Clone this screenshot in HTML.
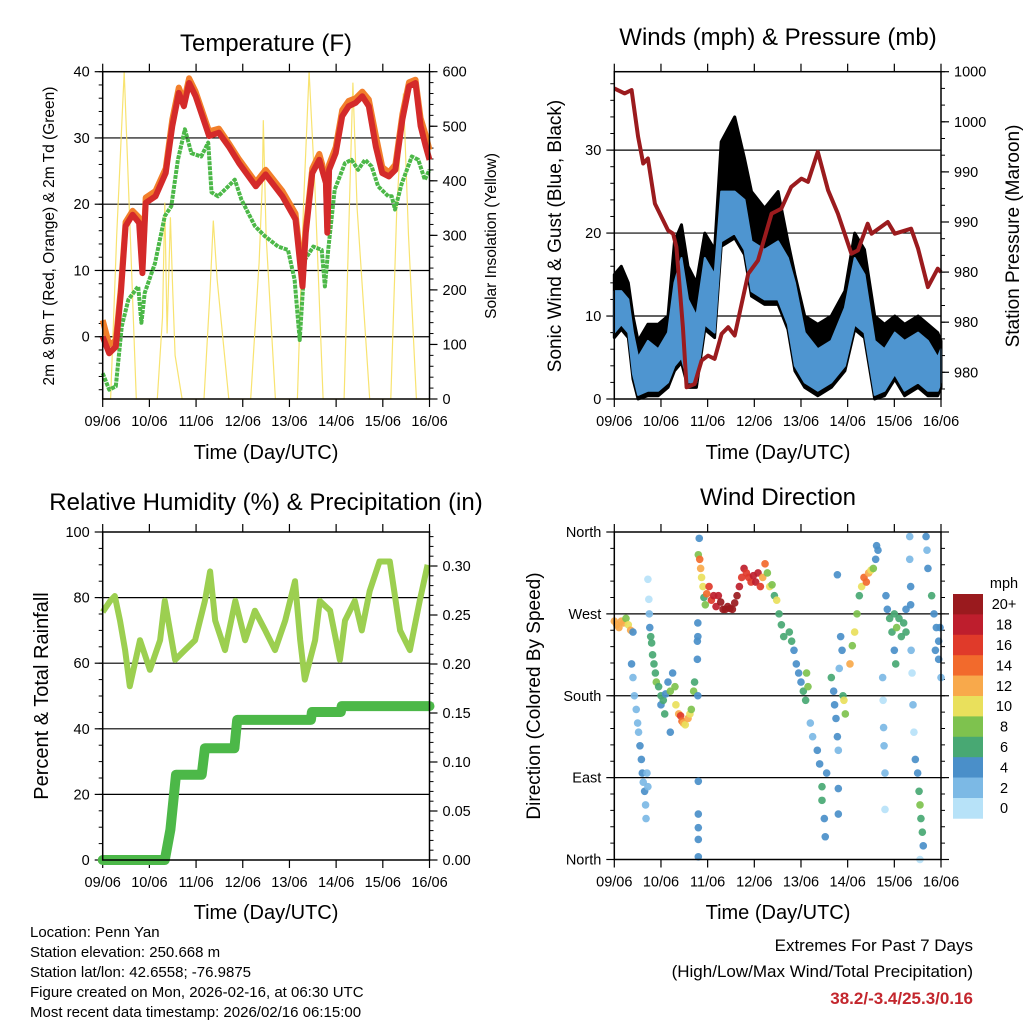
<!DOCTYPE html>
<html><head><meta charset="utf-8"><style>
html,body{margin:0;padding:0;background:#fff;}
svg{display:block;font-family:"Liberation Sans",Arial,sans-serif;}
</style></head><body>
<svg id="chart" width="1024" height="1024" viewBox="0 0 1024 1024" xmlns="http://www.w3.org/2000/svg">
<rect x="0" y="0" width="1024" height="1024" fill="#fff"/>
<g id="layer"></g>
<g font-size="15" fill="#000">
<text x="30" y="937">Location: Penn Yan</text>
<text x="30" y="957">Station elevation: 250.668 m</text>
<text x="30" y="977">Station lat/lon: 42.6558; -76.9875</text>
<text x="30" y="997">Figure created on Mon, 2026-02-16, at 06:30 UTC</text>
<text x="30" y="1017">Most recent data timestamp: 2026/02/16 06:15:00</text>
</g>
<g text-anchor="end">
<text x="973" y="951" font-size="17">Extremes For Past 7 Days</text>
<text x="973" y="977" font-size="17">(High/Low/Max Wind/Total Precipitation)</text>
<text x="973" y="1004" font-size="17" font-weight="bold" fill="#c3262d">38.2/-3.4/25.3/0.16</text>
</g>
</svg>
<script>
// ---------- data ----------
const dayLabels = ["09/06","10/06","11/06","12/06","13/06","14/06","15/06","16/06"];
const tempTicks = [0,10,20,30,40];
const solarTicks = [0,100,200,300,400,500,600];
const windTicks = [0,10,20,30];
const pressTickVals = [1001,998,995,992,989,986,983];
const pressTickLabels = ["1000","1000","990","990","980","980","980"];
const rhTicks = [0,20,40,60,80,100];
const precipTicks = [0,0.05,0.10,0.15,0.20,0.25,0.30];
const precipTickLabels = ["0.00","0.05","0.10","0.15","0.20","0.25","0.30"];
const dirTicks = [0,90,180,270,360];
const dirTickLabels = ["North","East","South","West","North"];
const speedBins = ["0","2","4","6","8","10","12","14","16","18","20+"];
const speedColors = ["#b7e2f8","#7cb9e5","#4a8fc9","#48a873","#7ec24e","#e9e05c","#f8a94b","#f26a2c","#e03a2a","#be1e2d","#9a1a1e"];

const tempT = [0,0.14,0.28,0.39,0.49,0.64,0.78,0.85,0.92,1.13,1.35,1.49,1.63,1.74,1.85,1.99,2.28,2.49,2.70,2.92,3.28,3.49,3.85,4.13,4.28,4.35,4.49,4.64,4.78,4.81,4.85,4.99,5.13,5.27,5.42,5.56,5.70,5.85,5.99,6.13,6.27,6.42,6.56,6.70,6.81,6.92,7.0];
const tempRed = [0.0,-2.5,-1.5,6.6,16.7,18.4,17.2,9.6,20.2,21.2,24.7,31.8,36.8,34.8,38.3,36.3,30.3,30.8,28.7,26.2,22.7,24.5,21.2,17.7,7.6,15.7,24.7,26.7,23.2,15.7,25.2,27.7,33.3,34.8,35.3,36.3,34.8,28.7,24.7,24.2,25.2,32.8,37.8,38.3,31.8,28.7,26.7];
const tempOrange = [2.5,-1.2,-0.6,7.4,17.3,19.0,18.0,10.5,21.0,22.0,25.4,32.8,37.6,35.6,39.0,37.0,31.0,31.4,29.2,26.8,23.3,25.2,22.0,18.6,9.0,16.5,25.4,27.6,24.0,16.5,26.0,28.6,34.2,35.6,36.0,37.0,35.8,30.4,25.6,24.8,26.0,33.6,38.4,38.8,33.0,30.4,28.2];
const dewT = [0,0.14,0.28,0.41,0.55,0.76,0.83,0.90,1.12,1.33,1.47,1.61,1.76,1.90,2.11,2.26,2.33,2.47,2.69,2.83,2.97,3.26,3.47,3.76,3.97,4.11,4.22,4.33,4.51,4.69,4.76,4.83,4.97,5.19,5.33,5.47,5.62,5.76,5.90,6.12,6.19,6.26,6.40,6.62,6.76,6.90,7.0];
const dewVals = [-5.5,-8.0,-7.5,1.6,5.6,7.6,2.1,6.6,11.1,18.2,19.7,26.7,31.3,27.7,27.2,29.3,21.8,21.2,22.7,23.7,20.7,16.7,15.2,13.6,13.1,8.6,-0.5,11.6,13.6,13.1,7.6,13.1,22.2,26.2,26.7,25.2,26.7,25.7,22.7,21.2,21.2,19.2,23.0,27.2,26.7,23.7,25.2];
const solarT = [0,0.17,0.30,0.46,0.60,0.72,1.17,1.28,1.33,1.38,1.45,1.50,1.55,1.70,2.17,2.30,2.37,2.45,2.70,3.17,3.35,3.42,3.44,3.50,3.70,4.17,4.30,4.42,4.55,4.72,5.17,5.30,5.36,5.45,5.72,6.17,6.30,6.44,6.55,6.72,7.0];
const solarVals = [0,0,300,600,280,0,0,150,360,120,333,200,80,0,0,200,327,220,0,0,250,400,511,300,0,0,350,600,380,0,0,400,580,350,0,0,350,560,300,0,0];

const pressT = [0,0.22,0.37,0.51,0.62,0.72,0.87,1.15,1.26,1.33,1.47,1.55,1.72,1.87,2.01,2.15,2.30,2.44,2.58,2.87,3.08,3.37,3.58,3.79,4.01,4.15,4.36,4.58,4.79,5.08,5.22,5.43,5.51,5.86,6.01,6.36,6.51,6.72,6.93,7.0];
const pressVals = [1000.0,999.7,999.9,997.1,995.5,995.8,993.1,991.5,991.3,990.5,985.7,982.1,982.3,983.7,984.0,983.8,985.3,985.7,985.2,988.9,989.7,992.5,992.8,994.1,994.6,994.4,996.2,993.9,992.5,990.1,990.3,991.9,991.3,992.0,991.3,991.6,990.4,988.1,989.2,989.0];
const windT = [0,0.15,0.30,0.40,0.51,0.72,0.94,1.15,1.29,1.44,1.58,1.76,1.94,2.15,2.29,2.58,2.79,2.94,3.22,3.51,3.72,3.87,4.08,4.36,4.65,4.94,5.15,5.36,5.58,5.79,6.01,6.22,6.51,6.72,6.93,7.0];
const windLow = [8,9,8,3,0.5,1,1,2,4,5,2,2,9,8,19,20,18,13,12,12,9,4,2,1,2,4,9,8,0.5,1,3,1,2,1,1,2];
const windHigh = [13,13,12,8,5,7,6,8,14,17,12,10,17,15,25,25,24,19,18,19,17,14,8,6,7,11,17,15,7,6,8,7,8,7,5,6];
const gustHigh = [15,16,14,10,7,9,9,10,19,21,16,14,20,18,31,34,29,25,23,25,19,15,10,9,10,13,20,18,10,9,10,9,10,9,8,7];

const rhT = [0,0.16,0.26,0.37,0.48,0.58,0.80,1.01,1.23,1.33,1.55,1.76,1.98,2.19,2.30,2.41,2.62,2.84,3.05,3.26,3.48,3.69,3.91,4.12,4.23,4.33,4.55,4.65,4.87,5.08,5.19,5.40,5.55,5.72,5.93,6.15,6.37,6.58,6.79,6.96];
const rhVals = [75.6,79,80.5,73,64,53,67,58,67,79,61,64,67,79,88,73,64,79,67,76,70,64,73,85,67,55,67,79,76,61,73,79,70,82,91,91,70,64,79,90];
const precipT = [0,1.33,1.45,1.57,2.12,2.19,2.82,2.88,4.46,4.48,5.10,5.12,7.0];
const precipVals = [0,0,0.031,0.087,0.087,0.114,0.114,0.143,0.143,0.151,0.151,0.157,0.157];

const dirT = [0.0,0.05,0.1,0.15,0.2,0.25,0.3,0.35,0.4,0.37,0.40,0.43,0.47,0.5,0.52,0.55,0.58,0.6,0.62,0.65,0.67,0.68,0.7,0.72,0.72,0.74,0.75,0.76,0.78,0.8,0.82,0.85,0.88,0.9,0.95,1.0,1.0,1.05,1.08,1.1,1.15,1.2,1.2,1.25,1.3,1.32,1.38,1.42,1.45,1.48,1.52,1.58,1.62,1.65,1.7,1.72,1.78,1.79,1.8,1.8,1.8,1.8,1.8,1.79,1.79,1.78,1.82,1.8,1.83,1.85,1.87,1.9,1.92,1.95,1.98,2.03,2.08,2.13,2.18,2.23,2.28,2.33,2.38,2.43,2.48,2.53,2.58,2.63,2.68,2.73,2.78,2.83,2.88,2.93,2.98,3.03,3.08,3.13,3.18,3.23,3.28,3.33,3.38,3.43,3.48,3.53,3.58,3.63,3.75,3.8,3.85,3.9,3.95,4.0,4.05,4.1,4.12,4.15,4.2,4.25,4.35,4.4,4.45,4.45,4.5,4.52,4.55,4.65,4.7,4.72,4.75,4.78,4.8,4.82,4.85,4.88,4.9,4.92,4.95,4.8,4.8,4.78,5.05,5.1,5.15,5.2,5.25,5.3,5.35,5.4,5.45,5.5,5.55,5.6,5.62,5.65,5.75,5.76,5.77,5.78,5.8,5.8,5.82,5.85,5.9,5.95,6.0,6.05,6.1,6.15,6.2,6.25,6.25,6.0,6.03,6.33,6.33,6.35,6.35,6.36,6.38,6.4,6.42,6.45,6.5,6.53,6.55,6.57,6.6,6.62,6.55,6.68,6.7,6.72,6.8,6.85,6.9,6.95,6.95,7.0,6.88,6.98];
const dirDeg = [262,258,255,262,260,265,258,252,250,215,200,180,165,150,140,125,110,95,85,75,60,45,95,80,308,286,270,255,245,238,225,215,205,195,190,180,170,175,160,182,195,185,140,205,190,170,160,158,152,150,148,155,160,165,185,195,220,180,86,50,35,22,3,260,245,240,353,335,330,320,310,300,288,280,292,300,285,290,278,290,283,275,275,278,276,275,282,290,300,310,320,315,310,305,312,305,315,300,310,325,315,300,302,290,285,270,258,245,250,240,230,215,205,195,185,175,205,190,150,135,120,105,80,65,45,25,95,200,185,170,155,135,120,210,245,230,180,175,160,78,50,313,215,235,250,270,290,300,310,305,315,318,320,330,345,340,200,175,145,125,95,55,290,275,265,250,270,255,265,245,260,275,250,230,215,355,330,300,280,230,205,170,140,110,95,75,60,45,30,15,0,355,340,320,290,270,255,240,220,200,230,255];
const dirSpd = [12,12,12,11,12,8,10,12,4,4,2,2,2,2,2,4,4,4,2,4,2,2,2,2,0,0,2,4,6,6,6,6,6,8,6,6,4,6,6,4,4,8,4,4,8,10,12,16,14,12,10,12,10,8,8,6,4,4,4,4,4,4,4,4,4,4,4,8,14,12,10,10,6,8,14,16,16,18,18,18,20,20,20,20,20,20,20,20,18,16,18,16,16,16,18,18,18,16,12,14,8,10,8,6,10,6,6,6,6,6,4,4,4,4,6,6,8,8,2,2,4,4,6,6,4,4,4,6,4,4,4,4,2,2,4,4,6,10,8,4,4,4,12,8,10,8,6,10,14,14,12,10,8,4,4,4,2,0,2,2,2,0,4,4,6,6,6,8,6,6,6,4,6,4,6,2,2,4,4,2,0,2,0,4,4,6,8,6,6,4,0,4,2,4,6,4,4,4,4,2,4,4];

// ---------- helpers ----------
const NS = "http://www.w3.org/2000/svg";
const layer = document.getElementById('layer');
function mk(tag, attrs, name, parent) {
  const el = document.createElementNS(NS, tag);
  for (const k in attrs) el.setAttribute(k, attrs[k]);
  
  
  (parent || layer).appendChild(el);
  return el;
}
function txt(x, y, s, size, anchor, name, extra) {
  const el = mk('text', Object.assign({x:x, y:y, 'font-size':size, 'text-anchor':anchor || 'middle', fill:'#000'}, extra || {}), name);
  el.textContent = s;
  return el;
}
function scale(d0, d1, r0, r1) { return v => r0 + (v - d0) / (d1 - d0) * (r1 - r0); }
function pathFrom(xs, ys) { return xs.map((x, i) => (i ? 'L' : 'M') + x.toFixed(1) + ',' + ys[i].toFixed(1)).join(''); }

const panels = {
  temp: {x0:102.7, x1:429.5, y0:71.7, y1:399},
  wind: {x0:614.3, x1:941, y0:71.7, y1:399},
  rh:   {x0:102.7, x1:429.5, y0:532, y1:860},
  dir:  {x0:614.3, x1:941, y0:532, y1:859.5}
};

function frame(p, key, leftTicks, leftScale, leftLabels, rightTicks, rightScale, rightLabels, grid, minorL, minorR) {
  const xs = scale(0, 7, p.x0, p.x1);
  const g = mk('g', {}, key + '-axes');
  grid.forEach(v => {
    const y = leftScale(v);
    mk('line', {x1:p.x0, x2:p.x1, y1:y, y2:y, stroke:'#000', 'stroke-width':1.2}, key + '-gridline', g);
  });
  dayLabels.forEach((s, i) => {
    const x = xs(i);
    mk('line', {x1:x, x2:x, y1:p.y1, y2:p.y1 + 8, stroke:'#000', 'stroke-width':1.2}, key + '-x-tick', g);
    mk('line', {x1:x, x2:x, y1:p.y0, y2:p.y0 - 8, stroke:'#000', 'stroke-width':1.2}, key + '-x-tick-top', g);
    txt(x, p.y1 + 27, s, 14.5, 'middle', key + '-x-tick-label');
  });
  leftTicks.forEach((v, i) => {
    const y = leftScale(v);
    mk('line', {x1:p.x0 - 8, x2:p.x0, y1:y, y2:y, stroke:'#000', 'stroke-width':1.2}, key + '-y-tick', g);
    if (leftLabels) txt(p.x0 - 13, y + 5, leftLabels[i], 14.5, 'end', key + '-y-tick-label');
  });
  minorL.forEach(v => {
    const y = leftScale(v);
    mk('line', {x1:p.x0 - 4, x2:p.x0, y1:y, y2:y, stroke:'#000', 'stroke-width':1}, key + '-y-minor-tick', g);
  });
  rightTicks.forEach((v, i) => {
    const y = rightScale(v);
    mk('line', {x1:p.x1, x2:p.x1 + 8, y1:y, y2:y, stroke:'#000', 'stroke-width':1.2}, key + '-y2-tick', g);
    if (rightLabels) txt(p.x1 + 13, y + 5, rightLabels[i], 14.5, 'start', key + '-y2-tick-label');
  });
  minorR.forEach(v => {
    const y = rightScale(v);
    mk('line', {x1:p.x1, x2:p.x1 + 4, y1:y, y2:y, stroke:'#000', 'stroke-width':1}, key + '-y2-minor-tick', g);
  });
  return xs;
}
function border(p, key) {
  mk('rect', {x:p.x0, y:p.y0, width:p.x1 - p.x0, height:p.y1 - p.y0, fill:'none', stroke:'#000', 'stroke-width':1.5}, key + '-plot-border');
}
function range(a, b, s) { const r = []; for (let v = a; v <= b + 1e-9; v += s) r.push(+v.toFixed(4)); return r; }

// ---------- Panel 1: temperature ----------
(function(){
  const p = panels.temp;
  const ty = scale(-9.4, 40, p.y1, p.y0);
  const sy = scale(0, 600, p.y1, p.y0);
  const xs = frame(p, 'temp', tempTicks, ty, tempTicks.map(String), solarTicks, sy, solarTicks.map(String), [0,10,20,30], range(-8,40,2), range(0,600,20));
  mk('path', {d:pathFrom(solarT.map(xs), solarVals.map(sy)), fill:'none', stroke:'#f7e060', 'stroke-width':1.2, opacity:0.9}, 'solar-insolation-line');
  mk('path', {d:pathFrom(dewT.map(xs), dewVals.map(ty)), fill:'none', stroke:'#4cb848', 'stroke-width':4, 'stroke-dasharray':'4,1', 'stroke-linejoin':'round'}, 'dewpoint-2m-line');
  mk('path', {d:pathFrom(tempT.map(xs), tempOrange.map(ty)), fill:'none', stroke:'#f27f2b', 'stroke-width':6, 'stroke-linejoin':'round'}, 'temp-9m-line');
  mk('path', {d:pathFrom(tempT.map(xs), tempRed.map(ty)), fill:'none', stroke:'#d42a2a', 'stroke-width':6, 'stroke-linejoin':'round'}, 'temp-2m-line');
  border(p, 'temp');
  txt(266, 51, 'Temperature (F)', 24, 'middle', 'temp-title');
  txt(0, 0, '2m & 9m T (Red, Orange) & 2m Td (Green)', 15.5, 'middle', 'temp-y-axis-title', {transform:'translate(54,236) rotate(-90)'});
  txt(0, 0, 'Solar Insolation (Yellow)', 15.5, 'middle', 'solar-y-axis-title', {transform:'translate(496,236) rotate(-90)'});
  txt(266, 459, 'Time (Day/UTC)', 20, 'middle', 'temp-x-axis-title');
})();

// ---------- Panel 2: wind & pressure ----------
(function(){
  const p = panels.wind;
  const wy = scale(0, 39.45, p.y1, p.y0);
  const py = scale(981.4, 1001, p.y1, p.y0);
  const xs = frame(p, 'wind', windTicks, wy, windTicks.map(String), pressTickVals, py, pressTickLabels, [10,20,30], range(0,38,2), range(982,1001,1));
  const X = windT.map(xs);
  const blackTop = gustHigh.map(wy), blackBot = windLow.map(v => wy(Math.max(0, v - 0.6)));
  mk('path', {d:pathFrom(X, blackTop) + pathFrom(X.slice().reverse(), blackBot.slice().reverse()).replace('M','L') + 'Z', fill:'#000', stroke:'#000', 'stroke-width':3, 'stroke-linejoin':'round'}, 'gust-scatter');
  mk('path', {d:pathFrom(X, windHigh.map(wy)) + pathFrom(X.slice().reverse(), windLow.map(wy).reverse()).replace('M','L') + 'Z', fill:'#4e95d0', stroke:'#4e95d0', 'stroke-width':2, 'stroke-linejoin':'round'}, 'sonic-wind-band');
  mk('path', {d:pathFrom(pressT.map(xs), pressVals.map(py)), fill:'none', stroke:'#9b1b1e', 'stroke-width':4, 'stroke-linejoin':'round'}, 'station-pressure-line');
  border(p, 'wind');
  txt(778, 45, 'Winds (mph) & Pressure (mb)', 24, 'middle', 'wind-title');
  txt(0, 0, 'Sonic Wind & Gust (Blue, Black)', 19, 'middle', 'wind-y-axis-title', {transform:'translate(561,236) rotate(-90)'});
  txt(0, 0, 'Station Pressure (Maroon)', 19, 'middle', 'pressure-y-axis-title', {transform:'translate(1019,236) rotate(-90)'});
  txt(778, 459, 'Time (Day/UTC)', 20, 'middle', 'wind-x-axis-title');
})();

// ---------- Panel 3: RH & precip ----------
(function(){
  const p = panels.rh;
  const ry = scale(0, 100, p.y1, p.y0);
  const py = scale(0, 0.3347, p.y1, p.y0);
  const xs = frame(p, 'rh', rhTicks, ry, rhTicks.map(String), precipTicks, py, precipTickLabels, [20,40,60,80], range(0,100,5), range(0,0.33,0.01));
  mk('path', {d:pathFrom(rhT.map(xs), rhVals.map(ry)), fill:'none', stroke:'#9ccf50', 'stroke-width':6, 'stroke-linejoin':'round'}, 'relative-humidity-line');
  mk('path', {d:pathFrom(precipT.map(xs), precipVals.map(py)), fill:'none', stroke:'#4cb848', 'stroke-width':10, 'stroke-linecap':'round', 'stroke-linejoin':'round'}, 'total-rainfall-line');
  border(p, 'rh');
  txt(266, 510, 'Relative Humidity (%) & Precipitation (in)', 24, 'middle', 'rh-title');
  txt(0, 0, 'Percent & Total Rainfall', 20, 'middle', 'rh-y-axis-title', {transform:'translate(48,696) rotate(-90)'});
  txt(266, 919, 'Time (Day/UTC)', 20, 'middle', 'rh-x-axis-title');
})();

// ---------- Panel 4: wind direction ----------
(function(){
  const p = panels.dir;
  const dy = scale(0, 360, p.y1, p.y0);
  const xs = frame(p, 'dir', dirTicks, dy, dirTickLabels, dirTicks, dy, null, [90,180,270], range(0,360,18), range(0,360,18));
  dirT.forEach((t, i) => {
    const bin = Math.min(10, Math.max(0, Math.round(dirSpd[i] / 2)));
    mk('circle', {cx:xs(t), cy:dy(dirDeg[i]), r:3.8, fill:speedColors[bin], opacity:0.92}, 'direction-point');
  });
  border(p, 'dir');
  txt(778, 505, 'Wind Direction', 24, 'middle', 'dir-title');
  txt(0, 0, 'Direction (Colored By Speed)', 19, 'middle', 'dir-y-axis-title', {transform:'translate(540,696) rotate(-90)'});
  txt(778, 919, 'Time (Day/UTC)', 20, 'middle', 'dir-x-axis-title');
  const lg = mk('g', {}, 'speed-legend');
  txt(1004, 588, 'mph', 14.5, 'middle', 'legend-title');
  const boxH = 20.4, top = 594;
  for (let i = 0; i < speedBins.length; i++) {
    const k = speedBins.length - 1 - i;
    mk('rect', {x:953, y:top + i * boxH, width:30, height:boxH + 0.3, fill:speedColors[k]}, 'legend-swatch', lg);
    txt(1004, top + i * boxH + boxH / 2 + 5, speedBins[k], 14.5, 'middle', 'legend-label');
  }
})();
</script>
</body></html>
